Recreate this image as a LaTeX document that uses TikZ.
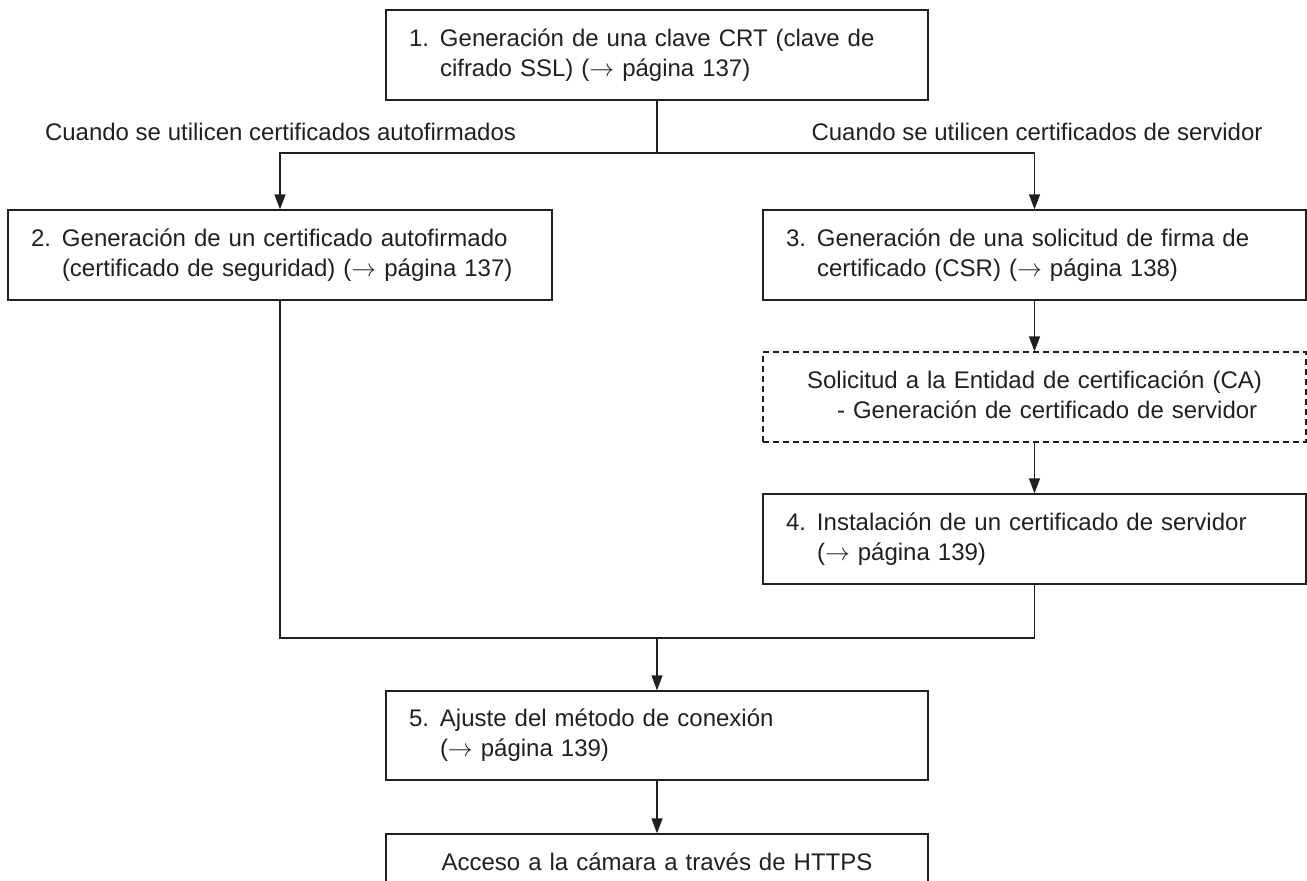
\documentclass[tikz,border=0pt]{standalone}
\usepackage{fontspec}
\setmainfont{Liberation Sans}
\usepackage{xcolor}
\usetikzlibrary{positioning, arrows.meta}
\definecolor{inkdark}{HTML}{231F20}
\newcommand{\seepage}[1]{($\rightarrow$ página #1)}

\tikzset{
  stepbox/.style={draw=inkdark, line width=1.3pt, inner xsep=23pt, inner ysep=0pt,
                  minimum height=90pt, align=left, text=inkdark},
  notebox/.style={stepbox, dash pattern=on 6pt off 4pt, align=center},
  flow/.style={draw=inkdark, line width=1.3pt, -{Triangle[length=15pt, width=11pt]}},
  joinline/.style={draw=inkdark, line width=1.3pt},
  branchlabel/.style={text=inkdark, inner sep=0pt}
}

\begin{document}
\begin{tikzpicture}[x=1pt, y=-1pt, font=\fontsize{24}{30}\selectfont]
    \useasboundingbox (0,0) rectangle (1307,881);

    % steps
    \node[stepbox, text width=496pt] (crtkey) at (657,55) {%
      \begin{tabular}{@{}p{31pt}@{}l@{}}1. & Generación de una clave CRT (clave de\\
        & cifrado SSL) \seepage{137}\end{tabular}};
    \node[stepbox, text width=498pt] (selfcert) at (280,255) {%
      \begin{tabular}{@{}p{31pt}@{}l@{}}2. & Generación de un certificado autofirmado\\
        & (certificado de seguridad) \seepage{137}\end{tabular}};
    \node[stepbox, text width=497pt] (csr) at (1034.5,255) {%
      \begin{tabular}{@{}p{31pt}@{}l@{}}3. & Generación de una solicitud de firma de\\
        & certificado (CSR) \seepage{138}\end{tabular}};
    \node[notebox, text width=497pt] (carequest) at (1034.5,397) {%
      \begin{tabular}{@{}l@{}}Solicitud a la Entidad de certificación (CA)\\
        \hspace*{30pt}- Generación de certificado de servidor\end{tabular}};
    \node[stepbox, text width=497pt] (install) at (1034.5,539) {%
      \begin{tabular}{@{}p{31pt}@{}l@{}}4. & Instalación de un certificado de servidor\\
        & \seepage{139}\end{tabular}};
    \node[stepbox, text width=496pt, minimum height=89pt] (connmode) at (657,735.5) {%
      \begin{tabular}{@{}p{31pt}@{}l@{}}5. & Ajuste del método de conexión\\
        & \seepage{139}\end{tabular}};
    \node[stepbox, text width=496pt, minimum height=56pt, align=center] (https) at (657,862)
      {Acceso a la cámara a través de HTTPS};

    % branch labels
    \node[branchlabel] (selflabel) at (280.5,132) {Cuando se utilicen certificados autofirmados};
    \node[branchlabel] (serverlabel) at (1037,132) {Cuando se utilicen certificados de servidor};

    \coordinate (split) at (657,153);
    \coordinate (merge) at (657,638);

    % connectors
    \draw[joinline] (crtkey) -- (split);
    \draw[flow] (split) -| (selfcert);
    \draw[flow] (split) -| (csr);
    \draw[flow] (csr) -- (carequest);
    \draw[flow] (carequest) -- (install);
    \draw[joinline] (selfcert) |- (merge);
    \draw[joinline] (install) |- (merge);
    \draw[flow] (merge) -- (connmode);
    \draw[flow] (connmode) -- (https);
\end{tikzpicture}
\end{document}
